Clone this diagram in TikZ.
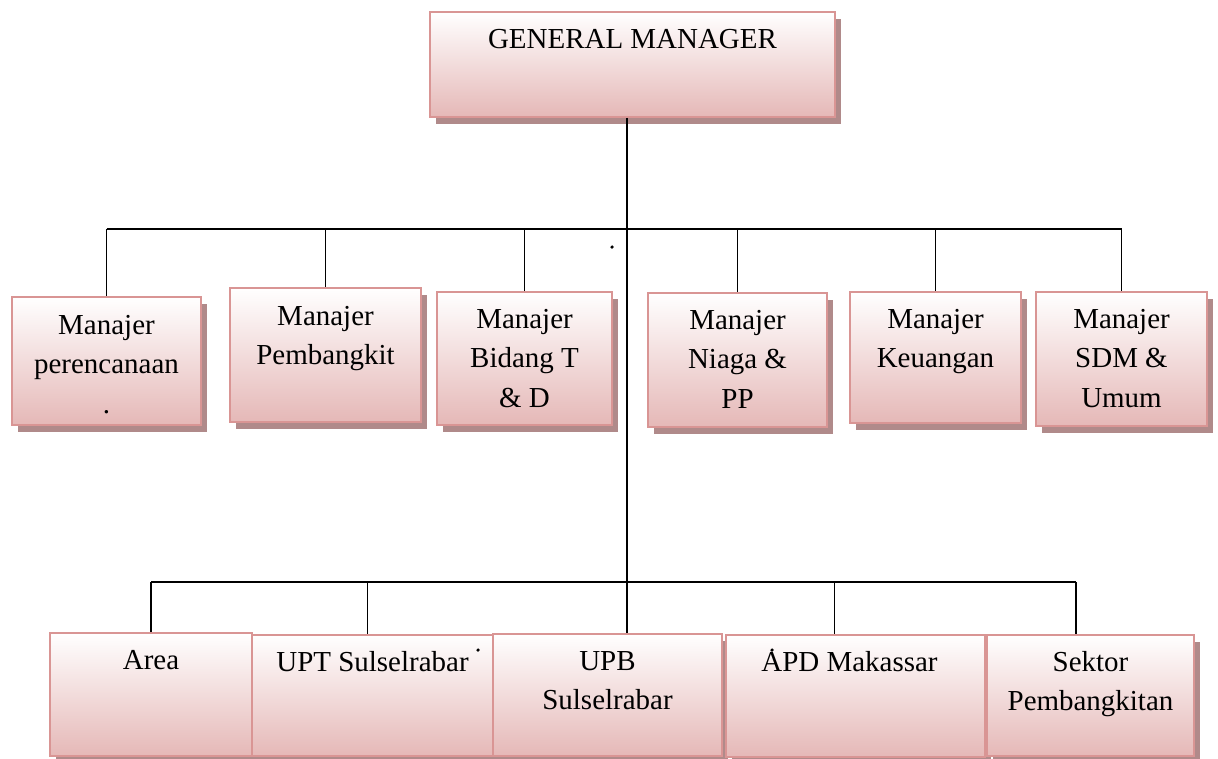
\documentclass[tikz,border=0pt]{standalone}
\usepackage{fontspec}
\setmainfont{Liberation Serif}
\usepackage{tikz}
\usetikzlibrary{shadows,calc}
\definecolor{boxpink}{RGB}{229,184,183}
\definecolor{boxline}{RGB}{217,149,148}
\definecolor{boxshade}{RGB}{176,138,138}
\begin{document}
\begin{tikzpicture}[x=0.025cm,y=-0.025cm,box/.style={draw=boxline,line width=1.3pt,rectangle,inner sep=0pt,top color=white,bottom color=boxpink,drop shadow={shadow xshift=0.15cm,shadow yshift=-0.17cm,fill=boxshade,opacity=1}},txt/.style={anchor=north,yshift=-0.235cm,align=center,inner sep=0pt,font=\fontsize{20.6}{28}\selectfont},link/.style={line width=1.2pt},speck/.style={circle,fill,inner sep=0pt,minimum size=2.5pt}]
\useasboundingbox (0,0) rectangle (1218,758);
\node[box,minimum width=10.125cm,minimum height=2.625cm,label={[txt]north:\strut GENERAL MANAGER}] (gm) at (632.5,64.5) {};
\node[box,minimum width=4.725cm,minimum height=3.2cm,label={[txt,yshift=-0.03cm]north:\strut Manajer\\perencanaan\\.}] (perenc) at (106.5,361) {};
\node[box,minimum width=4.775cm,minimum height=3.35cm,label={[txt,yshift=-0.03cm]north:\strut Manajer\\Pembangkit}] (pemb) at (325.5,355) {};
\node[box,minimum width=4.375cm,minimum height=3.325cm,label={[txt]north:\strut Manajer\\Bidang T\\\& D}] (bidang) at (524.5,358.5) {};
\node[box,minimum width=4.475cm,minimum height=3.35cm,label={[txt]north:\strut Manajer\\Niaga \&\\PP}] (niaga) at (737.5,360) {};
\node[box,minimum width=4.275cm,minimum height=3.275cm,label={[txt]north:\strut Manajer\\Keuangan}] (keu) at (935.5,357.5) {};
\node[box,minimum width=4.275cm,minimum height=3.35cm,label={[txt]north:\strut Manajer\\SDM \&\\Umum}] (sdm) at (1121.5,359) {};
\node[box,minimum width=5.05cm,minimum height=3.075cm,label={[txt]north:\strut Area}] (area) at (151,694.5) {};
\node[box,minimum width=6.025cm,minimum height=3.025cm,label={[txt]north:\strut UPT Sulselrabar}] (upt) at (372.5,695.5) {};
\node[box,minimum width=5.725cm,minimum height=3.05cm,label={[txt]north:\strut UPB\\Sulselrabar}] (upb) at (607.5,695) {};
\node[box,minimum width=6.475cm,minimum height=3.05cm,label={[txt,xshift=-0.15cm]north:\strut APD Makassar}] (apd) at (855.5,696) {};
\node[box,minimum width=5.175cm,minimum height=3.025cm,label={[txt]north:\strut Sektor\\Pembangkitan}] (sektor) at (1090.5,695.5) {};
% stray specks
\node[speck] (s1) at (612,247) {};
\node[speck] (s2) at (478,650) {};
\node[speck] (s3) at (772,650) {};
% trunk and buses
\coordinate (hub) at (627,229);
\coordinate (split) at (627,582);
\draw[link] (gm.south -| hub) -- (hub) -- (split) -- (split |- upb.north);
\draw[link] (perenc.north |- hub) -- (sdm.north |- hub);
\draw[link] (perenc.north |- hub) -- (perenc.north);
\draw[link] (pemb.north |- hub) -- (pemb.north);
\draw[link] (bidang.north |- hub) -- (bidang.north);
\draw[link] (niaga.north |- hub) -- (niaga.north);
\draw[link] (keu.north |- hub) -- (keu.north);
\draw[link] (sdm.north |- hub) -- (sdm.north);
\coordinate (area-in) at ($(area.north west)!0.5!(area.north east)$);
\coordinate (upt-in) at ($(upt.north west)!0.48!(upt.north east)$);
\coordinate (apd-in) at ($(apd.north west)!0.42!(apd.north east)$);
\coordinate (sektor-in) at ($(sektor.north west)!0.43!(sektor.north east)$);
\draw[link] (area-in |- split) -- (sektor-in |- split);
\draw[link] (area-in |- split) -- (area-in);
\draw[link] (upt-in |- split) -- (upt-in);
\draw[link] (apd-in |- split) -- (apd-in);
\draw[link] (sektor-in |- split) -- (sektor-in);
\end{tikzpicture}
\end{document}
